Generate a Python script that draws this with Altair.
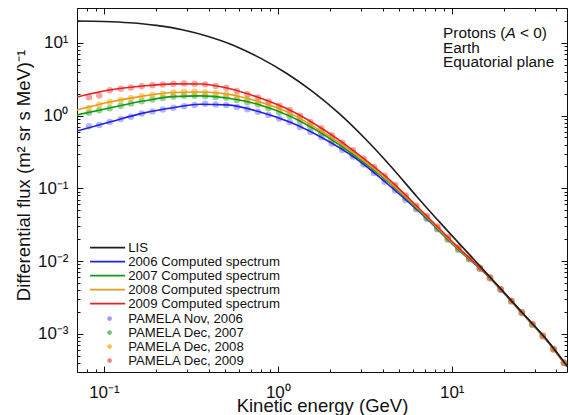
import altair as alt
import pandas as pd

# ---------------- data ----------------
E_LINE = [0.070, 0.108, 0.168, 0.25, 0.36, 0.51, 0.79, 1.17, 1.81, 2.84, 4.41, 6.81, 10.7, 16.5, 24.6, 35.2, 46.0]
MODEL_2006 = [0.613, 0.815, 1.08, 1.28, 1.43, 1.40, 1.12, 0.815, 0.491, 0.253, 0.108, 0.0430, 0.0151, 0.00590, 0.00209, 0.000810, 0.000353]
MODEL_2007 = [1.02, 1.27, 1.58, 1.82, 1.86, 1.74, 1.40, 0.985, 0.557, 0.269, 0.118, 0.0444, 0.0151, 0.00595, 0.00210, 0.000815, 0.000355]
MODEL_2008 = [1.19, 1.53, 1.85, 2.07, 2.11, 1.98, 1.53, 1.08, 0.594, 0.287, 0.122, 0.0458, 0.0156, 0.00600, 0.00211, 0.000820, 0.000357]
MODEL_2009 = [1.80, 2.24, 2.54, 2.72, 2.71, 2.39, 1.74, 1.19, 0.653, 0.305, 0.130, 0.0473, 0.0161, 0.00605, 0.00213, 0.000826, 0.000359]

E_LIS = [0.070, 0.100, 0.141, 0.200, 0.282, 0.398, 0.562, 0.794, 1.12, 1.58, 2.24, 3.16, 4.47, 6.31, 8.91,
         12.6, 17.8, 25.1, 35.5, 46.0]
LIS = [19.9, 19.6, 18.8, 17.3, 15.1, 12.2, 9.12, 6.14, 3.81, 2.15, 1.08, 0.488, 0.200, 0.0767, 0.0305,
       0.0124, 0.00505, 0.00203, 0.000810, 0.000365]

PAMELA_E = [0.082, 0.094, 0.108, 0.125, 0.143, 0.165, 0.190, 0.218, 0.251, 0.289, 0.332, 0.382, 0.439, 0.505,
            0.581, 0.668, 0.768, 0.883, 1.02, 1.17, 1.34, 1.54, 1.78, 2.04, 2.35, 2.70, 3.11, 3.57, 4.11, 4.72,
            5.43, 6.25, 7.18, 8.26, 9.50, 10.9, 12.6, 14.5, 16.6, 19.1, 22.0, 25.3, 29.1, 33.4, 38.5, 44.2]
PAMELA_2006 = [0.71, 0.743, 0.815, 0.895, 0.965, 1.07, 1.14, 1.21, 1.28, 1.34, 1.40, 1.45, 1.42, 1.40, 1.31, 1.22,
               1.13, 1.02, 0.910, 0.817, 0.698, 0.594, 0.502, 0.413, 0.335, 0.273, 0.212, 0.162, 0.123, 0.0931,
               0.0693, 0.0515, 0.0381, 0.0275, 0.0199, 0.0145, 0.0106, 0.00785, 0.00582, 0.00405, 0.00280,
               0.00194, 0.00134, 0.000928, 0.000610, 0.000399]
PAMELA_2007 = [1.09, 1.18, 1.26, 1.36, 1.46, 1.57, 1.66, 1.74, 1.82, 1.87, 1.87, 1.84, 1.79, 1.75, 1.63, 1.52,
               1.42, 1.26, 1.11, 0.987, 0.827, 0.690, 0.571, 0.461, 0.366, 0.293, 0.228, 0.176, 0.135, 0.101,
               0.0739, 0.0538, 0.0391, 0.0280, 0.0200, 0.0145, 0.0107, 0.00794, 0.00588, 0.00409, 0.00283,
               0.00196, 0.00135, 0.000935, 0.000615, 0.000402]
PAMELA_2008 = [1.26, 1.41, 1.53, 1.63, 1.73, 1.84, 1.92, 2.00, 2.08, 2.12, 2.12, 2.08, 2.03, 1.98, 1.83, 1.69,
               1.56, 1.39, 1.22, 1.09, 0.902, 0.745, 0.610, 0.491, 0.391, 0.313, 0.241, 0.184, 0.140, 0.105,
               0.0764, 0.0556, 0.0404, 0.0289, 0.0207, 0.0150, 0.0109, 0.00803, 0.00592, 0.00411, 0.00284,
               0.00197, 0.00136, 0.000940, 0.000618, 0.000404]
PAMELA_2009 = [1.78, 1.88, 2.22, 2.34, 2.43, 2.53, 2.60, 2.67, 2.74, 2.75, 2.74, 2.68, 2.55, 2.40, 2.17, 1.96,
               1.77, 1.56, 1.36, 1.19, 0.991, 0.818, 0.670, 0.536, 0.422, 0.334, 0.256, 0.196, 0.149, 0.111,
               0.0800, 0.0577, 0.0417, 0.0299, 0.0214, 0.0155, 0.0111, 0.00812, 0.00597, 0.00414, 0.00286,
               0.00198, 0.00137, 0.000946, 0.000622, 0.000406]

LINE_NAMES = ["LIS", "2006 Computed spectrum", "2007 Computed spectrum", "2008 Computed spectrum", "2009 Computed spectrum"]
LINE_COLORS = ["#1e1e1e", "#2222e6", "#169a16", "#e29c1e", "#e42424"]
POINT_NAMES = ["PAMELA Nov, 2006", "PAMELA Dec, 2007", "PAMELA Dec, 2008", "PAMELA Dec, 2009"]
POINT_COLORS = ["#7f7ff2", "#4fb34f", "#f2b21c", "#f26262"]

X_TICKS = [0.07, 0.08, 0.09, 0.1, 0.2, 0.3, 0.4, 0.5, 0.6, 0.7, 0.8, 0.9, 1, 2, 3, 4, 5, 6, 7, 8, 9, 10, 20, 30, 40]
Y_TICKS = [0.0003, 0.0004, 0.0005, 0.0006, 0.0007, 0.0008, 0.0009,
           0.001, 0.002, 0.003, 0.004, 0.005, 0.006, 0.007, 0.008, 0.009,
           0.01, 0.02, 0.03, 0.04, 0.05, 0.06, 0.07, 0.08, 0.09,
           0.1, 0.2, 0.3, 0.4, 0.5, 0.6, 0.7, 0.8, 0.9,
           1, 2, 3, 4, 5, 6, 7, 8, 9, 10, 20, 30]

# ---------------- tables ----------------
rows = []
for name, yv, xv in [(LINE_NAMES[1], MODEL_2006, E_LINE), (LINE_NAMES[2], MODEL_2007, E_LINE),
                     (LINE_NAMES[3], MODEL_2008, E_LINE), (LINE_NAMES[4], MODEL_2009, E_LINE),
                     (LINE_NAMES[0], LIS, E_LIS)]:
    for i, (x, y) in enumerate(zip(xv, yv)):
        rows.append({"series": name, "E": x, "F": y, "i": i})
lines_df = pd.DataFrame(rows)

prow = []
for name, yv in zip(POINT_NAMES, [PAMELA_2006, PAMELA_2007, PAMELA_2008, PAMELA_2009]):
    for x, y in zip(PAMELA_E, yv):
        prow.append({"set": name, "E": x, "F": y})
pts_df = pd.DataFrame(prow)

FONT = "Liberation Sans"
xs = alt.Scale(type="log", domain=[0.07, 46], nice=False)
ys = alt.Scale(type="log", domain=[0.0003, 30], nice=False)

XMAJ = "(datum.value == 0.1 || datum.value == 1 || datum.value == 10)"
YMAJ = "(datum.value == 0.001 || datum.value == 0.01 || datum.value == 0.1 || datum.value == 1 || datum.value == 10)"
XLAB = "datum.value == 0.1 ? '10⁻¹' : datum.value == 1 ? '10⁰' : datum.value == 10 ? '10¹' : ''"
YLAB = ("datum.value == 0.001 ? '10⁻³' : datum.value == 0.01 ? '10⁻²' : datum.value == 0.1 ? '10⁻¹' : "
        "datum.value == 1 ? '10⁰' : datum.value == 10 ? '10¹' : ''")


def tick_kw(major):
    return dict(
        domain=False, grid=False, offset=-6, tickSize=6, tickColor="#111", tickWidth=1,
        tickDash={"condition": {"test": "!" + major, "value": [3, 3]}, "value": [6, 0]},
        tickDashOffset={"condition": {"test": "!" + major, "value": 3}, "value": 0},
    )


x_bottom = alt.Axis(orient="bottom", values=X_TICKS, labelExpr=XLAB, labelPadding=12,
                    labelFontSize=17, labelFont=FONT, labelColor="#111", labelOverlap=False,
                    labelFlush=False, title="Kinetic energy (GeV)", titleFontSize=18.5,
                    titleFont=FONT, titleFontWeight="normal", titleColor="#111",
                    titleBaseline="alphabetic", titleY=45,
                    **tick_kw(XMAJ))
y_left = alt.Axis(orient="left", values=Y_TICKS, labelExpr=YLAB, labelPadding=9,
                  labelFontSize=17, labelFont=FONT, labelColor="#111", labelOverlap=False,
                  labelFlush=False, title="Differential flux (m² sr s MeV)⁻¹", titleFontSize=18.5,
                  titleFont=FONT, titleFontWeight="normal", titleColor="#111", titlePadding=4,
                  titleY=167,
                  **tick_kw(YMAJ))
x_top = alt.Axis(orient="top", values=X_TICKS, labels=False, title=None, **tick_kw(XMAJ))
y_right = alt.Axis(orient="right", values=Y_TICKS, labels=False, title=None, **tick_kw(YMAJ))

LEG = dict(orient="none", title=None, symbolSize=22, labelFont=FONT, labelFontSize=13.2,
           labelColor="#111", rowPadding=0, padding=0)

points = alt.Chart(pts_df).mark_circle(size=42, opacity=0.58, clip=True).encode(
    x=alt.X("E:Q", scale=xs, axis=None),
    y=alt.Y("F:Q", scale=ys, axis=None),
    fill=alt.Fill("set:N", scale=alt.Scale(domain=POINT_NAMES, range=POINT_COLORS),
                  legend=alt.Legend(legendX=26, legendY=304, symbolType="circle", labelOffset=12,
                                    symbolOpacity=0.8, symbolStrokeWidth=0, **LEG)),
)

lines = alt.Chart(lines_df).mark_line(strokeWidth=1.6, interpolate="monotone", clip=True).encode(
    x=alt.X("E:Q", scale=xs, axis=x_bottom),
    y=alt.Y("F:Q", scale=ys, axis=y_left),
    stroke=alt.Stroke("series:N", scale=alt.Scale(domain=LINE_NAMES, range=LINE_COLORS),
                      legend=alt.Legend(legendX=24, legendY=233, symbolType="M-7.46,0H7.46",
                                        labelOffset=14, symbolStrokeWidth=1.6, **LEG)),
    order="i:Q",
)

frame_ticks = alt.Chart(lines_df).mark_point(opacity=0).encode(
    x=alt.X("E:Q", scale=xs, axis=x_top),
    y=alt.Y("F:Q", scale=ys, axis=y_right),
)

note_kw = dict(align="left", baseline="middle", fontSize=15.4, font=FONT, color="#111")
note1 = alt.Chart(pd.DataFrame({"t": ["Protons ("]})).mark_text(**note_kw).encode(
    x=alt.value(366), y=alt.value(25), text="t:N")
note1a = alt.Chart(pd.DataFrame({"t": ["A"]})).mark_text(fontStyle="italic", **note_kw).encode(
    x=alt.value(428.5), y=alt.value(25), text="t:N")
note1b = alt.Chart(pd.DataFrame({"t": ["< 0)"]})).mark_text(**note_kw).encode(
    x=alt.value(443), y=alt.value(25), text="t:N")
note2 = alt.Chart(pd.DataFrame({"t": ["Earth"]})).mark_text(**note_kw).encode(
    x=alt.value(366), y=alt.value(40), text="t:N")
note3 = alt.Chart(pd.DataFrame({"t": ["Equatorial plane"]})).mark_text(**note_kw).encode(
    x=alt.value(366), y=alt.value(54), text="t:N")

chart = alt.layer(points, lines, frame_ticks, note1, note1a, note1b, note2, note3).resolve_axis(
    x="independent", y="independent"
).properties(
    width=490, height=364,
    autosize=alt.AutoSizeParams(type="none"),
    padding={"left": 77, "top": 8, "right": 2, "bottom": 43},
    background="white",
).configure_view(stroke="#111", strokeWidth=1)

chart.save("out.html", embed_options={"renderer": "svg", "actions": False})
